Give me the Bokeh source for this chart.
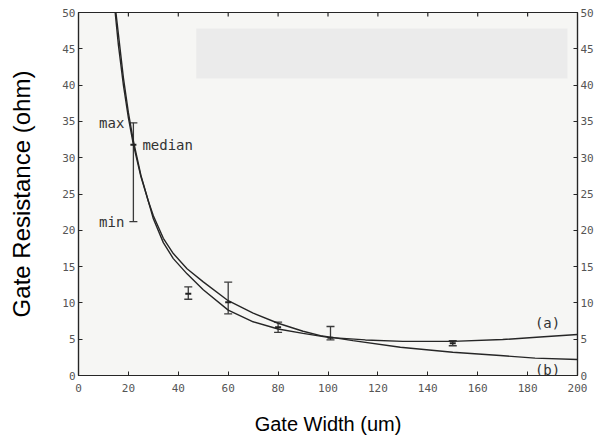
from bokeh.plotting import figure
from bokeh.models import (ColumnDataSource, Whisker, LinearAxis, Range1d, FixedTicker,
                          Label, BoxAnnotation, TeeHead)
from bokeh.embed import file_html
from bokeh.resources import INLINE
import math

# ---- data ----
curve_a_w = [15.0, 16, 18, 20, 22, 25, 28, 30, 34, 38, 43.5, 50, 60, 70, 80, 90, 100,
             115, 130, 150, 170, 185, 200]
curve_a_r = [50.0, 47.0, 41.0, 36.2, 32.3, 27.6, 24.0, 21.6, 18.3, 16.1, 14.0, 11.8, 9.0,
             7.4, 6.4, 5.8, 5.25, 4.9, 4.7, 4.7, 4.95, 5.3, 5.65]

curve_b_w = [14.7, 16, 18, 20, 22, 25, 28, 30, 34, 38, 43.5, 50, 60, 70, 80, 90, 97,
             110, 129, 150, 169, 183, 200]
curve_b_r = [50.0, 45.5, 40.0, 35.5, 31.8, 27.4, 24.0, 22.0, 18.9, 16.8, 14.7, 12.9, 10.3,
             8.6, 7.2, 6.1, 5.5, 4.8, 3.9, 3.2, 2.75, 2.4, 2.2]

bar_w = [22, 44, 60, 80, 101, 150]
bar_max = [34.8, 12.2, 12.85, 7.35, 6.75, 4.8]
bar_median = [31.8, 11.25, 10.1, 6.65, 5.2, 4.45]
bar_min = [21.2, 10.5, 8.5, 5.95, 4.9, 4.1]

x_ticks = [0, 20, 40, 60, 80, 100, 120, 140, 160, 180, 200]
y_ticks = [0, 5, 10, 15, 20, 25, 30, 35, 40, 45, 50]
x_min, x_max = 0, 200
y_min, y_max = 0, 50

ink = "#262626"
mono = "DejaVu Sans Mono"

p = figure(width=600, height=438, x_range=Range1d(x_min, x_max), y_range=Range1d(y_min, y_max),
           output_backend="svg", toolbar_location=None,
           min_border_left=78, min_border_right=23, min_border_top=12, min_border_bottom=63,
           x_axis_label="Gate Width (um)", y_axis_label="Gate Resistance (ohm)")

p.background_fill_color = "#f6f6f4"
p.border_fill_color = "#ffffff"
p.outline_line_color = ink
p.outline_line_width = 1.2
p.xgrid.visible = False
p.ygrid.visible = False

# light grey box seen in the scan
p.add_layout(BoxAnnotation(left=47.2, right=196, bottom=40.9, top=47.8,
                           fill_color="#ebebeb", fill_alpha=1.0, line_alpha=0,
                           level="underlay"))

def style_axis(ax, ticks, standoff=4):
    ax.ticker = FixedTicker(ticks=ticks)
    ax.axis_line_color = ink
    ax.axis_line_width = 1.2
    ax.major_tick_in = 4
    ax.major_tick_out = 0
    ax.major_tick_line_color = ink
    ax.minor_tick_line_color = None
    ax.major_label_text_font = mono
    ax.major_label_text_font_size = "11px"
    ax.major_label_text_color = "#555555"
    ax.major_label_standoff = standoff

style_axis(p.xaxis[0], x_ticks, standoff=8)
style_axis(p.yaxis[0], y_ticks, standoff=3)
for ax in (p.xaxis[0], p.yaxis[0]):
    ax.axis_label_text_font = "Liberation Sans"
    ax.axis_label_text_font_style = "normal"
    ax.axis_label_text_color = "#000000"
p.xaxis[0].axis_label_text_font_size = "20px"
p.yaxis[0].axis_label_text_font_size = "24px"
p.xaxis[0].axis_label_standoff = 18
p.yaxis[0].axis_label_standoff = 24

right_ax = LinearAxis()
style_axis(right_ax, y_ticks, standoff=3)
p.add_layout(right_ax, "right")

# inward ticks along the top edge (half of each mark is clipped by the frame)
p.scatter(x_ticks[1:-1], [y_max] * (len(x_ticks) - 2), marker="dash", size=8,
          angle=math.pi / 2, line_color=ink, line_width=1.2)

# curves
p.line(curve_a_w, curve_a_r, line_color=ink, line_width=1.4)
p.line(curve_b_w, curve_b_r, line_color=ink, line_width=1.4)

# error bars
src = ColumnDataSource(dict(w=bar_w, hi=bar_max, lo=bar_min, med=bar_median))
p.add_layout(Whisker(base="w", upper="hi", lower="lo", source=src, dimension="height",
                     line_color="#3a3a3a", line_width=1.3,
                     upper_head=TeeHead(size=8, line_color="#3a3a3a", line_width=1.3),
                     lower_head=TeeHead(size=8, line_color="#3a3a3a", line_width=1.3)))
p.scatter("w", "med", source=src, marker="dash", size=6, line_color="#222222", line_width=2)

# annotations
lab = dict(text_font=mono, text_font_size="14px", text_color="#333333",
           text_baseline="middle")
p.add_layout(Label(x=bar_w[0], y=bar_max[0], text="max", x_offset=-9,
                   text_align="right", **lab))
p.add_layout(Label(x=bar_w[0], y=bar_median[0], text="median", x_offset=9,
                   text_align="left", **lab))
p.add_layout(Label(x=bar_w[0], y=bar_min[0], text="min", x_offset=-9,
                   text_align="right", **lab))
p.add_layout(Label(x=188, y=7.2, text="(a)", text_align="center", **lab))
p.add_layout(Label(x=188, y=0.8, text="(b)", text_align="center", **lab))

open("out.html", "w").write(file_html(p, INLINE))
